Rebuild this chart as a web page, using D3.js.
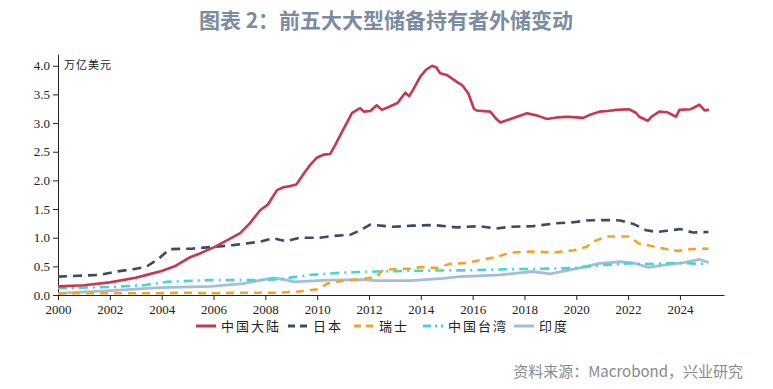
<!DOCTYPE html>
<html lang="zh">
<meta charset="utf-8">
<title>前五大大型储备持有者外储变动</title>
<style>
  body { margin: 0; background: #fff; }
  svg { display: block; }
</style>
<body>
<script src="https://d3js.org/d3.v7.min.js"></script>
<script>
  // data (year, trillion USD)
  var chinaMainland = [[2000.0,0.15],[2001,0.17],[2002,0.22],[2003,0.30],[2003.5,0.36],[2004,0.42],[2004.5,0.50],[2005.1,0.66],[2005.5,0.73],[2006.05,0.84],[2006.5,0.95],[2007.03,1.08],[2007.4,1.25],[2007.8,1.48],[2008.1,1.58],[2008.45,1.83],[2008.7,1.88],[2008.96,1.90],[2009.2,1.93],[2009.5,2.13],[2009.75,2.28],[2010.0,2.40],[2010.25,2.45],[2010.5,2.46],[2010.7,2.62],[2011.0,2.88],[2011.2,3.05],[2011.35,3.18],[2011.66,3.26],[2011.8,3.20],[2012.05,3.21],[2012.3,3.31],[2012.5,3.23],[2012.8,3.29],[2013.1,3.35],[2013.4,3.53],[2013.55,3.47],[2013.7,3.58],[2013.98,3.81],[2014.2,3.93],[2014.44,4.0],[2014.6,3.97],[2014.75,3.87],[2015.0,3.84],[2015.39,3.72],[2015.6,3.66],[2015.83,3.52],[2016.05,3.25],[2016.15,3.22],[2016.68,3.20],[2016.9,3.08],[2017.07,3.01],[2017.57,3.09],[2018.1,3.17],[2018.5,3.13],[2018.87,3.07],[2019.3,3.10],[2019.64,3.11],[2020.0,3.10],[2020.27,3.09],[2020.5,3.14],[2020.9,3.20],[2021.2,3.21],[2021.55,3.23],[2022.05,3.24],[2022.3,3.18],[2022.43,3.11],[2022.76,3.04],[2022.9,3.11],[2023.2,3.20],[2023.5,3.19],[2023.85,3.11],[2023.98,3.23],[2024.4,3.24],[2024.75,3.32],[2024.95,3.22],[2025.13,3.23]];
  var japan = [[2000.0,0.32],[2001.6,0.35],[2002.27,0.41],[2002.9,0.45],[2003.4,0.49],[2003.9,0.64],[2004.3,0.80],[2005.2,0.81],[2006.0,0.84],[2006.76,0.87],[2007.8,0.93],[2008.3,0.99],[2008.8,0.94],[2009.34,1.0],[2010.1,1.0],[2010.6,1.03],[2011.27,1.05],[2011.66,1.13],[2012.05,1.23],[2012.9,1.19],[2013.7,1.21],[2014.5,1.22],[2015.4,1.18],[2015.76,1.19],[2016.3,1.2],[2016.9,1.16],[2017.45,1.19],[2018.3,1.2],[2019.2,1.25],[2019.9,1.27],[2020.4,1.30],[2021.16,1.31],[2021.7,1.30],[2022.2,1.24],[2022.7,1.13],[2023.1,1.10],[2023.5,1.12],[2024.0,1.15],[2024.5,1.09],[2025.1,1.10]];
  var switzerland = [[2000.0,0.03],[2003.7,0.03],[2005.0,0.04],[2005.9,0.03],[2007.2,0.04],[2008.45,0.04],[2009.3,0.06],[2010.0,0.10],[2010.4,0.20],[2011.0,0.25],[2011.66,0.27],[2012.3,0.32],[2012.55,0.44],[2012.9,0.45],[2013.6,0.46],[2014.0,0.49],[2014.6,0.47],[2015.1,0.54],[2015.77,0.56],[2016.3,0.61],[2016.9,0.66],[2017.45,0.74],[2018.3,0.76],[2019.1,0.74],[2019.9,0.78],[2020.4,0.84],[2020.65,0.93],[2021.16,1.02],[2022.05,1.02],[2022.4,0.90],[2022.95,0.85],[2023.5,0.80],[2023.9,0.77],[2024.4,0.80],[2025.1,0.81]];
  var chinaTaiwan = [[2000.0,0.12],[2002.0,0.14],[2003.3,0.17],[2004.2,0.23],[2005.9,0.26],[2007.3,0.26],[2008.45,0.27],[2009.7,0.35],[2011.0,0.39],[2012.3,0.41],[2013.6,0.42],[2015.1,0.43],[2015.76,0.43],[2017.3,0.45],[2019.0,0.46],[2019.9,0.47],[2020.9,0.52],[2022.05,0.55],[2022.95,0.54],[2023.85,0.56],[2025.1,0.54]];
  var india = [[2000.0,0.03],[2002.0,0.075],[2003.94,0.13],[2005.9,0.15],[2007.15,0.20],[2008.3,0.30],[2008.84,0.26],[2009.1,0.23],[2010.4,0.26],[2011.7,0.27],[2012.3,0.25],[2013.6,0.25],[2014.87,0.29],[2015.5,0.32],[2017.07,0.35],[2018.3,0.41],[2019.0,0.37],[2020.0,0.46],[2020.9,0.55],[2021.66,0.58],[2022.2,0.56],[2022.8,0.48],[2023.5,0.53],[2024.1,0.56],[2024.75,0.62],[2025.1,0.57]];

  var seriesNames = ["中国大陆", "日本", "瑞士", "中国台湾", "印度"];
  var xTicks = d3.range(2000, 2025, 2);
  var yTicks = [0, 0.5, 1.0, 1.5, 2.0, 2.5, 3.0, 3.5, 4.0];

  var series = [
    {name: seriesNames[0], data: chinaMainland, color: "#c8374f", width: 2.6, dash: null},
    {name: seriesNames[1], data: japan, color: "#3c4a6a", width: 2.6, dash: "9,6"},
    {name: seriesNames[2], data: switzerland, color: "#f2a42a", width: 2.6, dash: "8,6"},
    {name: seriesNames[3], data: chinaTaiwan, color: "#44d6d2", width: 2.6, dash: "9,5,2,5"},
    {name: seriesNames[4], data: india, color: "#a3bedb", width: 2.8, dash: null}
  ];

  var W = 773, H = 389;
  var svg = d3.select("body").append("svg")
    .attr("width", W)
    .attr("height", H);

  // title
  svg.append("text")
    .attr("x", 386)
    .attr("y", 28)
    .attr("text-anchor", "middle")
    .attr("font-family", "'Noto Sans CJK SC', sans-serif")
    .attr("font-weight", "bold")
    .attr("font-size", 21)
    .attr("fill", "#7b8ba2")
    .text("图表 2：前五大大型储备持有者外储变动");

  // scales
  var x = d3.scaleLinear().domain([2000, 2025.7]).range([58, 724]);
  var y = d3.scaleLinear().domain([0, 4.2]).range([295, 54.3]);

  var line = d3.line()
    .x(function(d) { return x(d[0]); })
    .y(function(d) { return y(d[1]); });

  // axes
  var xAxis = svg.append("g")
    .attr("transform", "translate(0," + y(0) + ")")
    .call(d3.axisBottom(x).tickValues(xTicks).tickFormat(d3.format("d")).tickSize(5).tickSizeOuter(0));
  var yAxis = svg.append("g")
    .attr("transform", "translate(" + x(2000) + ",0)")
    .call(d3.axisLeft(y).tickValues(yTicks).tickFormat(d3.format(".1f")).tickSize(5).tickSizeOuter(0));

  [xAxis, yAxis].forEach(function(g) {
    g.selectAll("text")
      .attr("font-family", "'Liberation Serif', serif")
      .attr("font-size", 13)
      .attr("fill", "#222");
    g.selectAll("line, path").attr("stroke", "#222");
  });
  xAxis.selectAll("text").attr("dy", "0.85em");

  // unit label
  svg.append("text")
    .attr("x", 64)
    .attr("y", 69)
    .attr("font-family", "'Noto Sans CJK SC', sans-serif")
    .attr("font-size", 11)
    .attr("fill", "#222")
    .attr("letter-spacing", 1)
    .text("万亿美元");

  // lines (draw smaller series first so China sits on top)
  series.slice().reverse().forEach(function(s) {
    svg.append("path")
      .datum(s.data)
      .attr("fill", "none")
      .attr("stroke", s.color)
      .attr("stroke-width", s.width)
      .attr("stroke-linejoin", "round")
      .attr("stroke-dasharray", s.dash)
      .attr("d", line);
  });

  // legend
  var legendX = [196, 288, 354, 423, 514];
  var legend = svg.append("g");
  series.forEach(function(s, i) {
    var g = legend.append("g").attr("transform", "translate(" + legendX[i] + ",326)");
    g.append("line")
      .attr("x1", 0).attr("x2", 20)
      .attr("stroke", s.color)
      .attr("stroke-width", 3)
      .attr("stroke-dasharray", s.dash ? (i === 3 ? "8,4,2,4" : "7,5") : null);
    g.append("text")
      .attr("x", 25)
      .attr("dy", "0.35em")
      .attr("font-family", "'Noto Sans CJK SC', sans-serif")
      .attr("font-size", 13)
      .attr("letter-spacing", 2)
      .attr("fill", "#222")
      .text(s.name);
  });

  // source
  svg.append("text")
    .attr("x", 743)
    .attr("y", 377)
    .attr("text-anchor", "end")
    .attr("font-family", "'Noto Sans CJK SC', sans-serif")
    .attr("font-size", 15)
    .attr("fill", "#8a8a8a")
    .text("资料来源：Macrobond，兴业研究");
</script>
</body>
</html>
